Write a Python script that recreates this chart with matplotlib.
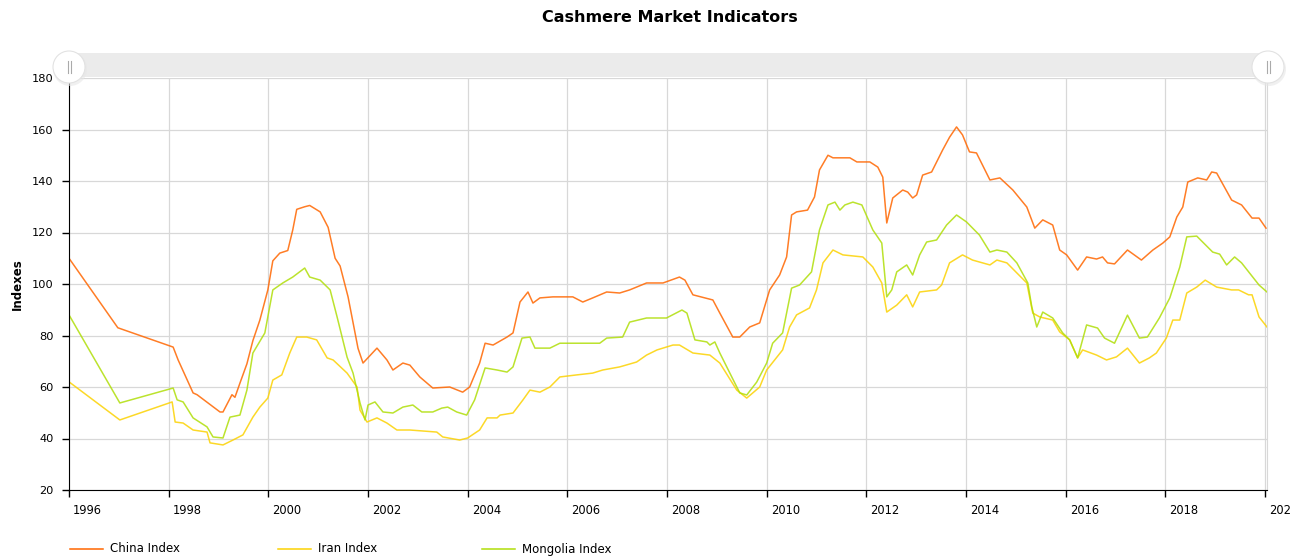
import numpy as np
import matplotlib
matplotlib.use("Agg")
import matplotlib.pyplot as plt
from matplotlib.patches import Rectangle, Ellipse
from matplotlib.lines import Line2D
import matplotlib.transforms as mtransforms

#Data (decimal years, index values)
chinaYears = [1996.00, 1996.98, 1998.09, 1998.19, 1998.49, 1998.57, 1999.03, 1999.09, 1999.27, 1999.33,
              1999.43, 1999.57, 1999.69, 1999.83, 1999.99, 2000.09, 2000.23, 2000.39, 2000.49, 2000.57,
              2000.73, 2000.83, 2001.04, 2001.20, 2001.34, 2001.44, 2001.60, 2001.70, 2001.80, 2001.90,
              2002.18, 2002.38, 2002.50, 2002.70, 2002.84, 2003.04, 2003.30, 2003.64, 2003.90, 2004.04,
              2004.24, 2004.35, 2004.51, 2004.79, 2004.91, 2005.05, 2005.21, 2005.31, 2005.45, 2005.71,
              2006.11, 2006.31, 2006.51, 2006.79, 2007.05, 2007.25, 2007.59, 2007.92, 2008.25, 2008.36,
              2008.52, 2008.92, 2009.06, 2009.32, 2009.46, 2009.66, 2009.86, 2010.06, 2010.26, 2010.40,
              2010.50, 2010.60, 2010.82, 2010.96, 2011.06, 2011.23, 2011.33, 2011.67, 2011.81, 2012.07,
              2012.23, 2012.33, 2012.41, 2012.53, 2012.73, 2012.83, 2012.93, 2013.01, 2013.13, 2013.31,
              2013.53, 2013.67, 2013.81, 2013.93, 2014.07, 2014.21, 2014.33, 2014.48, 2014.68, 2014.94,
              2015.22, 2015.38, 2015.54, 2015.74, 2015.88, 2016.02, 2016.24, 2016.42, 2016.62, 2016.74,
              2016.84, 2016.98, 2017.24, 2017.52, 2017.75, 2017.95, 2018.09, 2018.23, 2018.35, 2018.45,
              2018.65, 2018.83, 2018.93, 2019.03, 2019.33, 2019.53, 2019.74, 2019.88, 2020.02]
chinaIndex = [110, 83, 75.5, 70.5, 57.7, 57, 50.3, 50.3, 57, 56,
              61.5, 69, 78, 86, 97.7, 109, 112, 113, 121, 129,
              130, 130.5, 128, 122, 110, 107, 95, 85, 75, 69.3,
              75.1, 70.5, 66.6, 69.3, 68.5, 63.9, 59.6, 60, 58, 60,
              69.3, 77, 76.3, 79.4, 81, 93, 96.9, 92.6, 94.6, 95,
              95, 93, 94.6, 96.9, 96.5, 97.7, 100.4, 100.4, 102.7, 101.5,
              95.8, 93.8, 88.7, 79.4, 79.4, 83.3, 84.9, 97.7, 103.5, 110.5,
              126.8, 128, 128.7, 133.8, 144.3, 150, 149, 149, 147.4, 147.4,
              145.4, 141.5, 123.7, 133.4, 136.5, 135.7, 133.4, 134.6, 142.3, 143.5,
              152, 157, 161, 157.9, 151.3, 150.9, 146.2, 140.4, 141.2, 136.5,
              129.9, 121.7, 124.9, 122.9, 113.2, 111.3, 105.4, 110.5, 109.7, 110.5,
              108.2, 107.8, 113.2, 109.3, 113.2, 115.9, 118.3, 126, 129.9, 139.6,
              141.2, 140.4, 143.5, 143.1, 132.6, 130.7, 125.6, 125.6, 121.7]

iranYears = [1996.00, 1997.02, 1998.07, 1998.13, 1998.29, 1998.49, 1998.77, 1998.83, 1999.09, 1999.29,
             1999.49, 1999.69, 1999.83, 1999.99, 2000.09, 2000.27, 2000.43, 2000.57, 2000.77, 2000.97,
             2001.18, 2001.30, 2001.58, 2001.78, 2001.84, 2001.98, 2002.18, 2002.38, 2002.58, 2002.84,
             2003.38, 2003.50, 2003.84, 2004.00, 2004.24, 2004.39, 2004.59, 2004.65, 2004.91, 2005.11,
             2005.25, 2005.45, 2005.65, 2005.85, 2006.19, 2006.51, 2006.71, 2007.05, 2007.39, 2007.59,
             2007.80, 2008.12, 2008.25, 2008.52, 2008.86, 2009.06, 2009.40, 2009.60, 2009.86, 2010.00,
             2010.32, 2010.46, 2010.60, 2010.86, 2011.00, 2011.13, 2011.33, 2011.53, 2011.93, 2012.13,
             2012.31, 2012.41, 2012.61, 2012.81, 2012.93, 2013.07, 2013.41, 2013.51, 2013.67, 2013.93,
             2014.13, 2014.48, 2014.62, 2014.82, 2015.02, 2015.22, 2015.34, 2015.48, 2015.74, 2015.88,
             2016.08, 2016.24, 2016.34, 2016.62, 2016.82, 2017.02, 2017.24, 2017.48, 2017.68, 2017.82,
             2018.02, 2018.15, 2018.29, 2018.43, 2018.63, 2018.80, 2019.03, 2019.33, 2019.47, 2019.67,
             2019.74, 2019.88, 2020.04]
iranIndex = [62, 47.2, 54.2, 46.4, 46, 43.3, 42.5, 38.3, 37.5, 39.4,
             41.4, 48.3, 52.2, 55.7, 62.7, 64.7, 73.2, 79.4, 79.4, 78.3,
             71.3, 70.5, 65.4, 60, 51, 46.4, 48, 46, 43.3, 43.3,
             42.5, 40.6, 39.4, 40.2, 43.3, 48, 48, 49.1, 49.9, 55,
             58.8, 58, 60, 63.9, 64.7, 65.4, 66.6, 67.8, 69.7, 72.4,
             74.4, 76.3, 76.3, 73.2, 72.4, 69.3, 58.8, 55.7, 60, 66.6,
             74.4, 83.3, 88, 90.7, 97.7, 108.2, 113.2, 111.3, 110.5, 106.6,
             100.4, 89.1, 91.8, 95.8, 91.1, 96.9, 97.7, 99.6, 108.2, 111.3,
             109.3, 107.4, 109.3, 108.2, 104.3, 100.4, 88.7, 87.2, 86, 81.4,
             78.3, 71.3, 74.4, 72.4, 70.5, 71.7, 75.1, 69.3, 71.3, 73.2,
             79, 86, 86, 96.5, 98.8, 101.5, 98.8, 97.7, 97.7, 95.8,
             95.8, 87.2, 83.3]

mongoliaYears = [1996.00, 1997.02, 1998.09, 1998.17, 1998.29, 1998.49, 1998.77, 1998.89, 1999.09, 1999.23,
                 1999.43, 1999.57, 1999.69, 1999.93, 2000.09, 2000.29, 2000.49, 2000.73, 2000.83, 2001.04,
                 2001.24, 2001.38, 2001.58, 2001.70, 2001.84, 2001.94, 2002.00, 2002.14, 2002.30, 2002.50,
                 2002.70, 2002.90, 2003.08, 2003.30, 2003.48, 2003.60, 2003.78, 2003.98, 2004.14, 2004.35,
                 2004.59, 2004.79, 2004.91, 2005.09, 2005.25, 2005.35, 2005.65, 2005.85, 2006.25, 2006.65,
                 2006.79, 2007.11, 2007.25, 2007.59, 2007.99, 2008.30, 2008.40, 2008.56, 2008.80, 2008.86,
                 2008.96, 2009.06, 2009.46, 2009.60, 2009.80, 2010.00, 2010.12, 2010.32, 2010.50, 2010.66,
                 2010.90, 2011.06, 2011.23, 2011.37, 2011.47, 2011.57, 2011.73, 2011.91, 2012.13, 2012.31,
                 2012.41, 2012.51, 2012.61, 2012.81, 2012.93, 2013.07, 2013.21, 2013.41, 2013.61, 2013.81,
                 2014.01, 2014.27, 2014.48, 2014.62, 2014.82, 2015.02, 2015.24, 2015.32, 2015.42, 2015.54,
                 2015.74, 2015.94, 2016.08, 2016.24, 2016.42, 2016.64, 2016.78, 2016.98, 2017.24, 2017.48,
                 2017.64, 2017.88, 2018.09, 2018.29, 2018.43, 2018.63, 2018.95, 2019.09, 2019.23, 2019.39,
                 2019.53, 2019.88, 2020.04]
mongoliaIndex = [88, 53.8, 59.6, 55, 54.2, 48, 44.5, 40.6, 40.2, 48.3,
                 49.1, 58.8, 73.2, 81, 97.7, 100.4, 102.7, 106.2, 102.7, 101.5,
                 97.7, 87.2, 71.6, 65.4, 53.8, 47.2, 53, 54.2, 50.3, 49.9,
                 52.2, 53, 50.3, 50.3, 51.8, 52.2, 50.3, 49.1, 55, 67.4,
                 66.6, 65.8, 67.8, 79, 79.4, 75.1, 75.1, 77, 77, 77,
                 79, 79.4, 85.2, 86.8, 86.8, 89.9, 88.7, 78.3, 77.5, 76.3,
                 77.5, 73.2, 57.7, 56.9, 61.9, 69.3, 77, 81, 98.4, 99.6,
                 104.7, 121, 130.7, 131.8, 128.7, 130.7, 131.8, 130.7, 121, 115.9,
                 95, 97.7, 104.7, 107.4, 103.5, 111.3, 116.3, 117.1, 122.9, 126.8,
                 124.1, 119, 112.4, 113.2, 112.4, 108.2, 100.4, 91.1, 83.3, 89.1,
                 86.8, 81, 78.3, 71.3, 84.1, 82.9, 79, 77, 87.9, 79,
                 79.4, 86.8, 94.6, 106.6, 118.3, 118.6, 112.4, 111.6, 107.4, 110.5,
                 108.2, 99.6, 96.9]

seriesNames = ["China Index", "Iran Index", "Mongolia Index"]
seriesColors = ["#FF6600", "#FCD202", "#B0DE09"]
xTicks = list(range(1996, 2021, 2))
yTicks = list(range(20, 181, 20))

W, H = 1304, 560

#pixel (from top-left) to figure fraction
def fx(x):
    return x / W

def fy(y):
    return 1 - y / H

fig = plt.figure(figsize=(W / 100, H / 100), dpi=100)
ax = fig.add_axes([fx(69), fy(490), fx(1267) - fx(69), fy(78) - fy(490)])

#Lines
ax.plot(chinaYears, chinaIndex, color=seriesColors[0], lw=1.1, alpha=0.85)
ax.plot(iranYears, iranIndex, color=seriesColors[1], lw=1.1, alpha=0.85)
ax.plot(mongoliaYears, mongoliaIndex, color=seriesColors[2], lw=1.1, alpha=0.85)

#Axes
ax.set_xlim(1996.0, 2020.04)
ax.set_ylim(20, 180)
ax.set_xticks(xTicks)
ax.set_xticklabels([str(t) for t in xTicks])
ax.set_yticks(yTicks)
ax.grid(True, color="#d8d8d8", lw=0.9)
ax.set_axisbelow(True)
ax.spines["top"].set_visible(False)
ax.spines["right"].set_color("#d8d8d8")
ax.spines["left"].set_color("#000000")
ax.spines["bottom"].set_color("#000000")
ax.tick_params(axis="both", length=5, width=1, color="#000000", labelcolor="#000000")
ax.tick_params(axis="x", labelsize=8.3, pad=5)
ax.tick_params(axis="y", labelsize=8.2, pad=6)

#x labels sit to the right of their grid line, last one is cut by the chart box
offset = mtransforms.ScaledTranslation(3 / 72, 0, fig.dpi_scale_trans)
clipBox = mtransforms.Bbox.from_extents(0, 0, 1290, H)
for lab in ax.get_xticklabels():
    lab.set_horizontalalignment("left")
    lab.set_transform(lab.get_transform() + offset)
    lab.set_clip_box(clipBox)
    lab.set_clip_on(True)

fig.text(fx(17), fy(284), "Indexes", rotation=90, ha="center", va="center",
         fontsize=8.5, fontweight="bold")

#Title
fig.text(fx(670), fy(17), "Cashmere Market Indicators", ha="center", va="center",
         fontsize=11.5, fontweight="bold")

#Scrollbar with grips
fig.add_artist(Rectangle((fx(69), fy(77)), fx(1268) - fx(69), fy(53) - fy(77),
                         transform=fig.transFigure, facecolor="#ebebeb", edgecolor="none"))
for gx in [69, 1268]:
    fig.add_artist(Ellipse((fx(gx + 1), fy(69)), 34 / W, 34 / H, transform=fig.transFigure,
                           facecolor="#e6e6e6", edgecolor="none", alpha=0.6))
    fig.add_artist(Ellipse((fx(gx), fy(67)), 32 / W, 32 / H, transform=fig.transFigure,
                           facecolor="#ffffff", edgecolor="#e2e2e2", lw=0.8))
    for dx in [-1.5, 1.5]:
        fig.add_artist(Line2D([fx(gx + dx), fx(gx + dx)], [fy(61), fy(73)],
                              transform=fig.transFigure, color="#aaaaaa", lw=0.8))

#Legend
legendX = [70, 278, 482]
for i in range(3):
    fig.add_artist(Line2D([fx(legendX[i]), fx(legendX[i] + 33)], [fy(549), fy(549)],
                          transform=fig.transFigure, color=seriesColors[i], lw=1.1))
    fig.text(fx(legendX[i] + 40), fy(549), seriesNames[i], ha="left", va="center", fontsize=8.5)

fig.savefig("out.png", dpi=100)
